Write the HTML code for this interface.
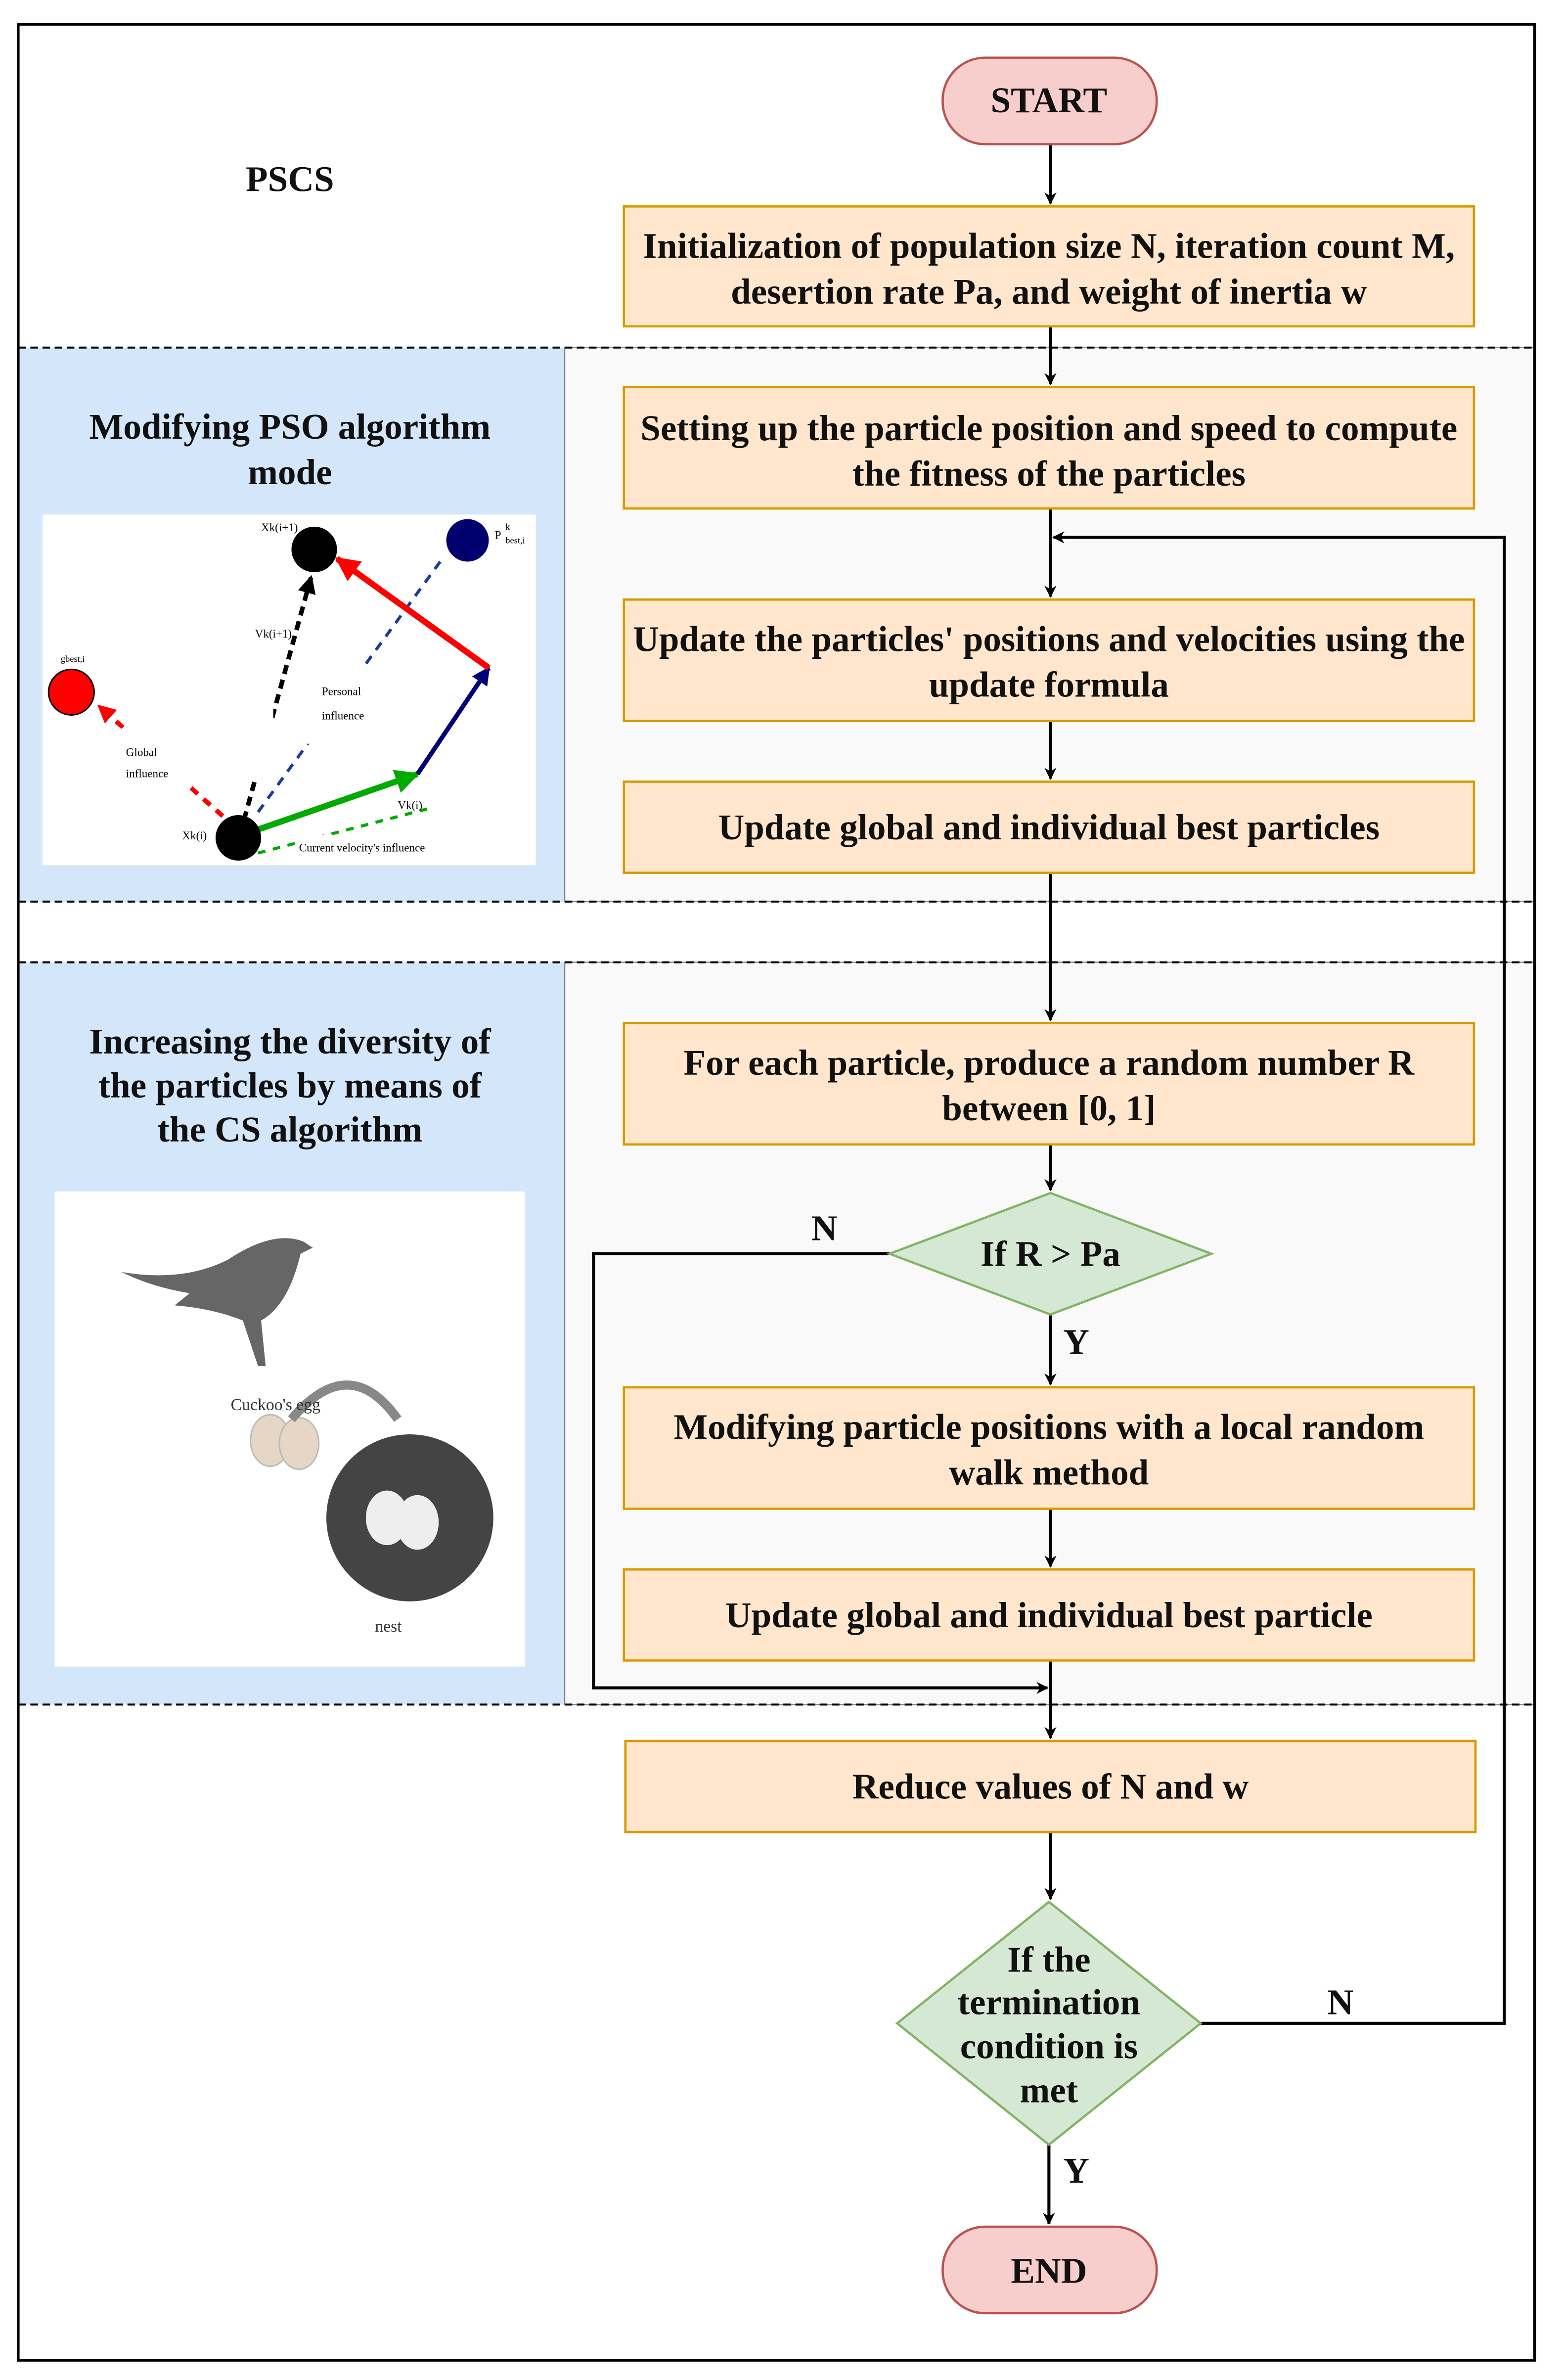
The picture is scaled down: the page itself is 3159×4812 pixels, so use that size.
<!DOCTYPE html>
<html><head><meta charset="utf-8"><style>
html,body{margin:0;padding:0;background:#fff}
svg{display:block}
text{font-family:"Liberation Serif",serif}
.b{font-weight:bold;font-size:23.8px;fill:#111}
</style></head><body>
<svg width="3159" height="4812" viewBox="0 0 1029 1568" preserveAspectRatio="none" xmlns="http://www.w3.org/2000/svg">
<defs>
<marker id="a" viewBox="0 0 10 10" refX="9" refY="5" markerWidth="8" markerHeight="8" orient="auto" markerUnits="userSpaceOnUse"><path d="M0,0 L10,5 L0,10 L3,5z" fill="#000"/></marker>
<marker id="ar" viewBox="0 0 10 10" refX="9" refY="5" markerWidth="4" markerHeight="4" orient="auto"><path d="M0,0 L10,5 L0,10z" fill="red"/></marker>
<marker id="ak" viewBox="0 0 10 10" refX="9" refY="5" markerWidth="4" markerHeight="4" orient="auto"><path d="M0,0 L10,5 L0,10z" fill="#000"/></marker>
<marker id="ab" viewBox="0 0 10 10" refX="9" refY="5" markerWidth="4" markerHeight="4" orient="auto"><path d="M0,0 L10,5 L0,10z" fill="#00007a"/></marker>
<marker id="ag" viewBox="0 0 10 10" refX="9" refY="5" markerWidth="4" markerHeight="4" orient="auto"><path d="M0,0 L10,5 L0,10z" fill="#0a0"/></marker>
</defs>
<rect x="0" y="0" width="1029" height="1568" fill="#fff"/>
<rect x="12" y="229" width="360" height="365" fill="#d4e6fa"/>
<rect x="372" y="229" width="639" height="365" fill="#f9f9f9" stroke="#888" stroke-width="0.8"/>
<rect x="12" y="634" width="360" height="489" fill="#d4e6fa"/>
<rect x="372" y="634" width="639" height="489" fill="#f9f9f9" stroke="#888" stroke-width="0.8"/>
<rect x="12" y="16" width="999" height="1539" fill="none" stroke="#000" stroke-width="1.8"/>
<g stroke="#000" stroke-width="1.3" stroke-dasharray="5,3">
<line x1="12" y1="229" x2="1011" y2="229"/><line x1="12" y1="594" x2="1011" y2="594"/>
<line x1="12" y1="634" x2="1011" y2="634"/><line x1="12" y1="1123" x2="1011" y2="1123"/>
</g>
<rect x="28" y="339" width="325" height="231" fill="#fff"/>
<g stroke-width="3" fill="none">
<line x1="158" y1="550" x2="205" y2="380" stroke="#000" stroke-dasharray="6,4" marker-end="url(#ak)"/>
<line x1="170" y1="535" x2="290" y2="370" stroke="#1a3d9a" stroke-width="2" stroke-dasharray="6,5"/>
<line x1="155" y1="545" x2="65" y2="465" stroke="red" stroke-dasharray="6,5" marker-end="url(#ar)"/>
<line x1="160" y1="550" x2="275" y2="510" stroke="#0a0" stroke-width="4" marker-end="url(#ag)"/>
<line x1="275" y1="510" x2="322" y2="440" stroke="#00007a" marker-end="url(#ab)"/>
<line x1="322" y1="440" x2="222" y2="368" stroke="red" stroke-width="4" marker-end="url(#ar)"/>
<line x1="170" y1="562" x2="285" y2="532" stroke="#0a0" stroke-width="2" stroke-dasharray="5,5"/>
</g>
<rect x="120" y="393" width="60" height="120" fill="#fff"/>
<rect x="200" y="440" width="70" height="50" fill="#fff"/>
<rect x="75" y="480" width="50" height="45" fill="#fff"/>
<rect x="195" y="550" width="100" height="14" fill="#fff"/>
<circle cx="207" cy="362" r="15" fill="#000"/>
<circle cx="308" cy="356" r="14" fill="#00006e"/>
<circle cx="47" cy="456" r="15" fill="red" stroke="#000" stroke-width="1"/>
<circle cx="157" cy="552" r="15" fill="#000"/>
<g font-size="7.5" fill="#000">
<text x="172" y="350">Xk(i+1)</text><text x="168" y="420">Vk(i+1)</text>
<text x="326" y="355">P</text><text x="333" y="349" font-size="6">k</text><text x="333" y="358" font-size="6">best,i</text>
<text x="40" y="436" font-size="6">gbest,i</text>
<text x="212" y="458">Personal</text><text x="212" y="474">influence</text>
<text x="83" y="498">Global</text><text x="83" y="512">influence</text>
<text x="120" y="553">Xk(i)</text><text x="262" y="533">Vk(i)</text>
<text x="197" y="561">Current velocity's influence</text>
</g>
<rect x="36" y="785" width="310" height="313" fill="#fff"/>
<path d="M80,838 Q120,845 150,830 Q180,810 200,818 L206,822 L198,826 Q190,860 172,870 L175,900 L170,900 L160,870 Q140,862 115,860 L125,852 Q100,848 80,838z" fill="#666"/>
<path d="M270,1000 m-55,0 a55,55 0 1,0 110,0 a55,55 0 1,0 -110,0" fill="#444"/>
<ellipse cx="255" cy="1000" rx="14" ry="18" fill="#eee"/><ellipse cx="275" cy="1003" rx="14" ry="18" fill="#eee"/>
<ellipse cx="178" cy="949" rx="13" ry="17" fill="#e6d6c6" stroke="#bbb"/><ellipse cx="197" cy="951" rx="13" ry="17" fill="#e6d6c6" stroke="#bbb"/>
<path d="M192,935 Q230,890 262,935" stroke="#888" stroke-width="6" fill="none"/>
<text x="152" y="929" font-size="11" fill="#333">Cuckoo's egg</text>
<text x="247" y="1075" font-size="11" fill="#333">nest</text>
<g stroke="#000" stroke-width="2" fill="none">
<line x1="692" y1="95" x2="692" y2="134" marker-end="url(#a)"/>
<line x1="692" y1="215" x2="692" y2="253" marker-end="url(#a)"/>
<line x1="692" y1="335" x2="692" y2="393" marker-end="url(#a)"/>
<line x1="692" y1="475" x2="692" y2="513" marker-end="url(#a)"/>
<line x1="692" y1="575" x2="692" y2="672" marker-end="url(#a)"/>
<line x1="692" y1="754" x2="692" y2="784" marker-end="url(#a)"/>
<line x1="692" y1="866" x2="692" y2="912" marker-end="url(#a)"/>
<line x1="692" y1="994" x2="692" y2="1032" marker-end="url(#a)"/>
<line x1="692" y1="1094" x2="692" y2="1145" marker-end="url(#a)"/>
<line x1="692" y1="1207" x2="692" y2="1251" marker-end="url(#a)"/>
<line x1="691" y1="1413" x2="691" y2="1465" marker-end="url(#a)"/>
<polyline points="586,826 391,826 391,1112 690,1112" marker-end="url(#a)"/>
<polyline points="791,1333 991,1333 991,354 694,354" marker-end="url(#a)"/>
</g>
<rect x="621" y="38" width="141" height="57" rx="28" fill="#f8cecc" stroke="#b85450" stroke-width="1.5"/>
<rect x="621" y="1467" width="141" height="57" rx="28" fill="#f8cecc" stroke="#b85450" stroke-width="1.5"/>
<g fill="#ffe6cc" stroke="#d79b00" stroke-width="1.5">
<rect x="411" y="136" width="560" height="79"/>
<rect x="411" y="255" width="560" height="80"/>
<rect x="411" y="395" width="560" height="80"/>
<rect x="411" y="515" width="560" height="60"/>
<rect x="411" y="674" width="560" height="80"/>
<rect x="411" y="914" width="560" height="80"/>
<rect x="411" y="1034" width="560" height="60"/>
<rect x="412" y="1147" width="560" height="60"/>
</g>
<g fill="#d5e8d4" stroke="#82b366" stroke-width="1.5">
<polygon points="692,786 798,826 692,866 586,826"/>
<polygon points="691,1253 791,1333 691,1413 591,1333"/>
</g>
<g class="b" text-anchor="middle">
<text x="691" y="74">START</text><text x="691" y="1504">END</text>
<text x="191" y="126">PSCS</text>
<text x="691" y="170">Initialization of population size N, iteration count M,</text>
<text x="691" y="200">desertion rate Pa, and weight of inertia w</text>
<text x="691" y="290">Setting up the particle position and speed to compute</text>
<text x="691" y="320">the fitness of the particles</text>
<text x="691" y="429">Update the particles' positions and velocities using the</text>
<text x="691" y="459">update formula</text>
<text x="691" y="553">Update global and individual best particles</text>
<text x="691" y="708">For each particle, produce a random number R</text>
<text x="691" y="738">between [0, 1]</text>
<text x="692" y="834">If R &gt; Pa</text>
<text x="691" y="948">Modifying particle positions with a local random</text>
<text x="691" y="978">walk method</text>
<text x="691" y="1072">Update global and individual best particle</text>
<text x="692" y="1185">Reduce values of N and w</text>
<text x="691" y="1299">If the</text><text x="691" y="1327">termination</text>
<text x="691" y="1356">condition is</text><text x="691" y="1385">met</text>
<text x="191" y="289">Modifying PSO algorithm</text><text x="191" y="319">mode</text>
<text x="191" y="694">Increasing the diversity of</text><text x="191" y="723">the particles by means of</text>
<text x="191" y="752">the CS algorithm</text>
<text x="543" y="817">N</text><text x="709" y="892">Y</text>
<text x="883" y="1327">N</text><text x="709" y="1438">Y</text>
</g>
</svg>
</body></html>
